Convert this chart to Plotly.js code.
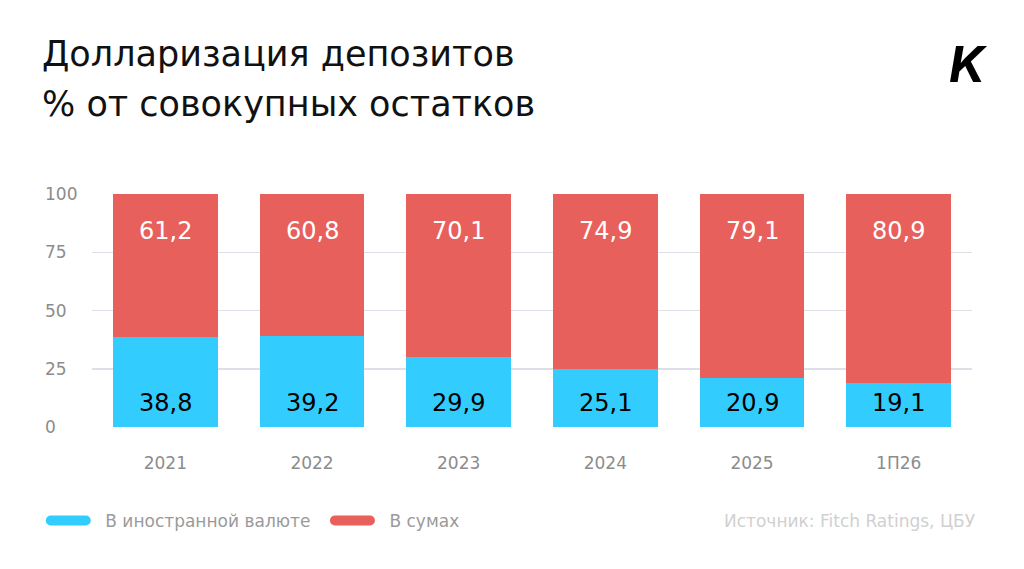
<!DOCTYPE html>
<html>
<head>
<meta charset="utf-8">
<script src="https://cdn.plot.ly/plotly-3.0.1.min.js"></script>
<style>html,body{margin:0;padding:0;background:#fff;}#chart{width:1024px;height:569px;}</style>
</head>
<body>
<div id="chart"></div>
<script>
var categories = ["2021", "2022", "2023", "2024", "2025", "1П26"];
var foreignShare = [38.8, 39.2, 29.9, 25.1, 20.9, 19.1];
var somShare = [61.2, 60.8, 70.1, 74.9, 79.1, 80.9];
var seriesNames = ["В иностранной валюте", "В сумах"];
var titleLines = ["Долларизация депозитов", "% от совокупных остатков"];
var sourceText = "Источник: Fitch Ratings, ЦБУ";
var yTicks = [0, 25, 50, 75, 100];

var BLUE = "#33CCFF", RED = "#E8605C";
var FONT = "'DejaVu Sans', sans-serif";

function fmt(v) { return v.toFixed(1).replace(".", ","); }

var traces = [
  {type: "bar", x: categories, y: foreignShare, name: seriesNames[0], marker: {color: BLUE}, hoverinfo: "none"},
  {type: "bar", x: categories, y: somShare, name: seriesNames[1], marker: {color: RED}, hoverinfo: "none"}
];

var annotations = [];
categories.forEach(function (c, i) {
  annotations.push({x: i, y: foreignShare[i] + somShare[i], xref: "x", yref: "y", text: fmt(somShare[i]),
    showarrow: false, yshift: -37, font: {family: FONT, size: 24, color: "#ffffff"}});
  annotations.push({x: i, y: 0, xref: "x", yref: "y", text: fmt(foreignShare[i]),
    showarrow: false, yshift: 24, font: {family: FONT, size: 24, color: "#000000"}});
});
yTicks.forEach(function (t) {
  annotations.push({xref: "paper", yref: "y", x: -0.0557, y: t, xanchor: "left", yanchor: "middle",
    text: String(t), showarrow: false, font: {family: FONT, size: 17, color: "#8c8c8c"}});
});
annotations.push({xref: "paper", yref: "paper", x: -0.059, y: 1.6, xanchor: "left", yanchor: "middle",
  text: titleLines[0], showarrow: false, font: {family: FONT, size: 35, color: "#111"}});
annotations.push({xref: "paper", yref: "paper", x: -0.059, y: 1.386, xanchor: "left", yanchor: "middle",
  text: titleLines[1], showarrow: false, font: {family: FONT, size: 35, color: "#111"}});
annotations.push({xref: "paper", yref: "paper", x: 1.007, y: -0.403, xanchor: "right", yanchor: "middle",
  text: sourceText, showarrow: false, font: {family: FONT, size: 17, color: "#d0d0d0"}});
annotations.push({xref: "paper", yref: "paper", x: 0.996, y: 1.56, xanchor: "center", yanchor: "middle",
  text: "<b><i>K</i></b>", showarrow: false, font: {family: "Inter, sans-serif", size: 50, color: "#000", weight: 900}});

var layout = {
  width: 1024, height: 569,
  margin: {l: 92, r: 52, t: 194, b: 142},
  paper_bgcolor: "#fff", plot_bgcolor: "#fff",
  barmode: "stack", bargap: 0.286,
  xaxis: {type: "category", categoryorder: "array", categoryarray: categories, range: [-0.5, categories.length - 0.5],
    showgrid: false, zeroline: false, showline: false,
    ticks: "outside", ticklen: 21, tickcolor: "rgba(0,0,0,0)",
    tickfont: {family: FONT, size: 17, color: "#8c8c8c"}, fixedrange: true},
  yaxis: {range: [0, 100], tickvals: yTicks, showticklabels: false, showgrid: true, gridcolor: "#dfdfe7",
    gridwidth: 1.5, zeroline: false, showline: false, fixedrange: true},
  showlegend: true,
  legend: {orientation: "h", traceorder: "normal", x: -0.069, y: -0.403, xanchor: "left", yanchor: "middle",
    font: {family: FONT, size: 17, color: "#9a9a9a"}, itemwidth: 64, tracegroupgap: 0},
  annotations: annotations
};

Plotly.newPlot("chart", traces, layout, {staticPlot: true, displayModeBar: false}).then(function (gd) {
  gd.querySelectorAll(".legend .legendpoints path").forEach(function (p) {
    p.setAttribute("d", "M-17.5,-5H17.5A5,5 0 0 1 17.5,5H-17.5A5,5 0 0 1 -17.5,-5Z");
    p.style.strokeWidth = "0";
  });
});
</script>
</body>
</html>
